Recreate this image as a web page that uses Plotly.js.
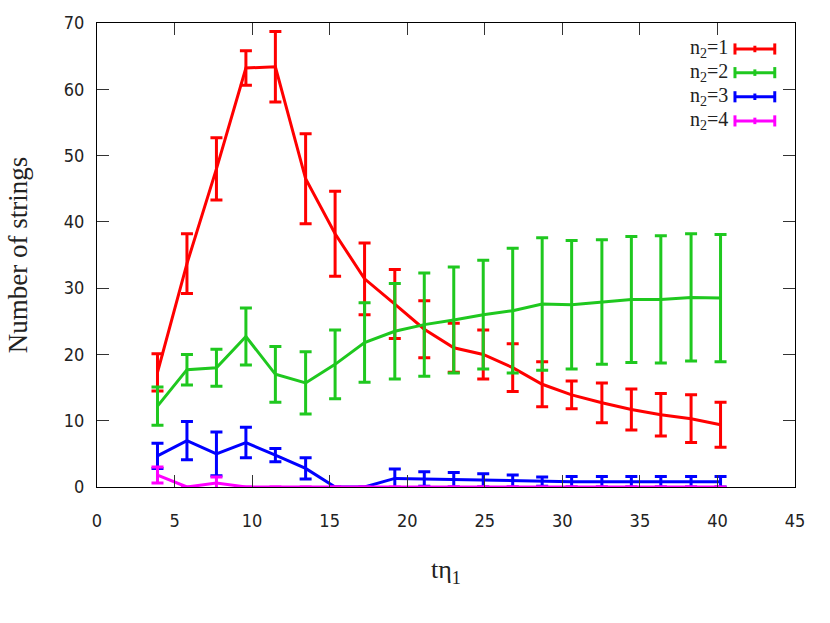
<!DOCTYPE html>
<html>
<head>
<meta charset="utf-8">
<script src="https://cdn.plot.ly/plotly-3.0.1.min.js"></script>
<style>
  html, body { margin: 0; padding: 0; background: #fff; }
  #chart { width: 830px; height: 623px; }
</style>
</head>
<body>
<div id="chart"></div>
<script>
const tEta = [3.9, 5.8, 7.7, 9.6, 11.5, 13.45, 15.35, 17.25, 19.2, 21.1, 23.0, 24.9, 26.8, 28.7, 30.6, 32.55, 34.45, 36.35, 38.3, 40.2];

const n1Vals = [17.3, 33.7, 48.0, 63.2, 63.4, 46.5, 38.2, 31.4, 27.6, 23.8, 21.0, 20.0, 18.0, 15.5, 13.9, 12.7, 11.7, 10.9, 10.3, 9.4];
const n1Errs = [2.8, 4.5, 4.7, 2.6, 5.3, 6.8, 6.4, 5.4, 5.2, 4.3, 3.7, 3.7, 3.6, 3.4, 2.1, 3.0, 3.1, 3.2, 3.6, 3.4];

const n2Vals = [12.2, 17.7, 18.0, 22.7, 17.0, 15.7, 18.5, 21.8, 23.5, 24.5, 25.2, 26.0, 26.6, 27.6, 27.5, 27.9, 28.3, 28.3, 28.6, 28.5];
const n2Errs = [2.9, 2.3, 2.8, 4.3, 4.2, 4.7, 5.2, 6.0, 7.2, 7.8, 8.0, 8.2, 9.4, 10.0, 9.7, 9.4, 9.5, 9.6, 9.6, 9.6];

const n3Vals = [4.7, 7.0, 5.0, 6.7, 4.8, 2.8, 0, 0, 1.3, 1.2, 1.1, 1.0, 0.9, 0.8, 0.8, 0.8, 0.8, 0.8, 0.8, 0.8];
const n3Errs = [1.9, 2.9, 3.3, 2.3, 1.0, 1.6, 0, 0, 1.4, 1.1, 1.1, 1.0, 0.9, 0.7, 0.8, 0.8, 0.8, 0.8, 0.8, 0.8];

const n4Vals = [1.8, 0, 0.6, 0, 0, 0, 0, 0, 0, 0, 0, 0, 0, 0, 0, 0, 0, 0, 0, 0];
const n4Errs = [1.2, 0, 0.9, 0, 0, 0, 0, 0, 0, 0, 0, 0, 0, 0, 0, 0, 0, 0, 0, 0];

const seriesArr = [
  { label: 'n<sub>2</sub>=1', y: n1Vals, err: n1Errs, color: '#ff0000' },
  { label: 'n<sub>2</sub>=2', y: n2Vals, err: n2Errs, color: '#1fc81f' },
  { label: 'n<sub>2</sub>=3', y: n3Vals, err: n3Errs, color: '#0000ff' },
  { label: 'n<sub>2</sub>=4', y: n4Vals, err: n4Errs, color: '#ff00ff' },
];

const tickFont = { family: '"DejaVu Sans Condensed", "DejaVu Sans", sans-serif', size: 18, color: '#222' };
const serifFont = { family: '"Liberation Serif", "DejaVu Serif", serif', color: '#222' };

const traces = seriesArr.map((s) => ({
  type: 'scatter',
  mode: 'lines',
  x: tEta,
  y: s.y,
  name: s.label,
  cliponaxis: false,
  line: { color: s.color, width: 3 },
  error_y: { type: 'data', array: s.err, visible: true, color: s.color, thickness: 3, width: 6 },
  showlegend: false,
}));

/* key in the gnuplot style: text on the left, error-line sample on the right */
const keyText = 0.907, keyX0 = 0.914, keyX1 = 0.971;
const keyRows = [0.944, 0.893, 0.841, 0.789];
const annotations = [];
const shapes = [];
seriesArr.forEach((s, i) => {
  const y = keyRows[i];
  annotations.push({
    xref: 'paper', yref: 'paper', x: keyText, y: y,
    xanchor: 'right', yanchor: 'middle', showarrow: false,
    text: s.label, font: Object.assign({ size: 20 }, serifFont),
  });
  const ln = { color: s.color, width: 3 };
  shapes.push({ type: 'line', xref: 'paper', yref: 'paper', x0: keyX0, x1: keyX1, y0: y, y1: y, line: ln });
  shapes.push({ type: 'line', xref: 'paper', yref: 'paper', x0: keyX0, x1: keyX0, y0: y - 0.012, y1: y + 0.012, line: ln });
  shapes.push({ type: 'line', xref: 'paper', yref: 'paper', x0: keyX1, x1: keyX1, y0: y - 0.012, y1: y + 0.012, line: ln });
  const mid = (keyX0 + keyX1) / 2;
  shapes.push({ type: 'line', xref: 'paper', yref: 'paper', x0: mid, x1: mid, y0: y - 0.007, y1: y + 0.007, line: ln });
});

const axisBase = {
  showline: true,
  linecolor: '#000',
  linewidth: 1,
  mirror: 'ticks',
  ticks: 'inside',
  ticklen: 12,
  tickcolor: '#333',
  tickwidth: 1,
  showgrid: false,
  zeroline: false,
  tickfont: tickFont,
};

const layout = {
  width: 830,
  height: 623,
  margin: { l: 97, r: 35, t: 23, b: 136 },
  paper_bgcolor: '#fff',
  plot_bgcolor: '#fff',
  xaxis: Object.assign({}, axisBase, {
    range: [0, 45],
    tickvals: [0, 5, 10, 15, 20, 25, 30, 35, 40, 45],
    ticklabelstandoff: 17,
    title: { text: 'tη<sub>1</sub>', font: Object.assign({ size: 26 }, serifFont), standoff: 30 },
  }),
  yaxis: Object.assign({}, axisBase, {
    range: [0, 70],
    tickvals: [0, 10, 20, 30, 40, 50, 60, 70],
    ticklabelstandoff: 8,
    title: { text: 'Number of strings', font: Object.assign({ size: 27 }, serifFont), standoff: 28 },
  }),
  annotations: annotations,
  shapes: shapes,
};

Plotly.newPlot('chart', traces, layout, { displayModeBar: false, responsive: false });
</script>
</body>
</html>
